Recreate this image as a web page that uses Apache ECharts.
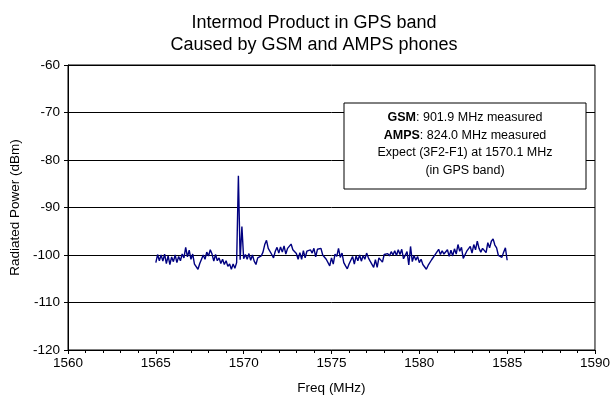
<!DOCTYPE html>
<html lang="en">
<head>
    <meta charset="UTF-8">
    <title>Intermod Product in GPS band</title>
    <script src="https://cdn.jsdelivr.net/npm/echarts@6/dist/echarts.min.js"></script>
    <style>
        html, body { margin: 0; padding: 0; background: #fff; }
        #main { width: 613px; height: 401px; }
    </style>
</head>
<body>
<div id="main"></div>
<script type="text/javascript">
    // sweep: 1565.0 .. 1585.0 MHz, one reading every 0.1 MHz
    const sweepStartMHz = 1565.0
    const sweepStepMHz = 0.1

    // radiated power (dBm)
    const powerDbm = [
        // 1565.0 - 1570.0
        -101.6, -99.9, -101.2, -100.0, -101.3, -99.8, -101.8, -100.2, -102.0, -100.4,
        -101.4, -100.0, -101.6, -100.3, -101.2, -99.8, -100.6, -98.4, -100.4, -99.0,
        -100.9, -99.8, -101.9, -102.3, -103.0, -101.8, -102.2, -100.0, -100.9, -99.4,
        -100.2, -98.9, -99.8, -101.3, -99.9, -101.2, -100.6, -101.8, -100.9, -102.0,
        -101.2, -102.4, -101.9, -103.0, -101.9, -102.8, -101.6, -83.3, -101.0, -94.0,
        -100.8,
        // 1570.1 - 1575.2
        -99.9, -100.9, -99.7, -101.1, -100.0, -101.3, -102.0, -100.6, -101.0, -100.2,
        -99.4, -97.8, -96.9, -98.6, -98.2, -99.9, -100.6, -99.2, -98.4, -99.6,
        -98.3, -99.4, -98.1, -99.8, -98.6, -98.3, -97.7, -98.9, -98.5, -99.7,
        -100.9, -99.5, -100.9, -99.1, -100.6, -99.2, -99.4, -98.9, -99.6, -98.6,
        -100.4, -98.8, -99.0, -98.6, -100.0, -99.6, -100.9, -101.2, -102.3, -100.6,
        -101.9, -99.8,
        // 1575.3 - 1580.4
        -100.3, -98.6, -100.5, -99.6, -101.6, -102.3, -102.9, -101.9, -101.6, -100.3,
        -101.9, -100.2, -101.2, -100.0, -101.3, -100.1, -100.9, -99.6, -100.6, -101.3,
        -101.4, -102.6, -101.0, -102.6, -100.6, -100.2, -101.5, -99.9, -99.8, -99.7,
        -100.2, -99.3, -100.0, -99.1, -100.1, -98.9, -99.9, -98.8, -100.8, -101.2,
        -99.3, -102.1, -98.2, -101.4, -100.1, -101.1, -100.3, -101.6, -100.9, -102.0,
        -102.2, -103.0,
        // 1580.5 - 1585.0
        -102.2, -102.1, -101.0, -100.9, -99.9, -100.0, -98.8, -99.9, -99.1, -99.8,
        -99.4, -98.9, -100.3, -99.0, -100.2, -98.7, -99.8, -97.8, -99.2, -98.4,
        -100.7, -100.8, -99.2, -99.1, -98.2, -99.6, -97.8, -98.9, -97.1, -98.6,
        -99.4, -98.6, -98.2, -99.5, -97.4, -98.5, -97.1, -96.6, -97.9, -98.5,
        -100.1, -100.2, -100.5, -99.4, -98.5, -101.1
    ]

    const titleLines = ['Intermod Product in GPS band', 'Caused by GSM and AMPS phones']
    const noteLines = [
        '{b|GSM}: 901.9 MHz measured',
        '{b|AMPS}: 824.0 MHz measured',
        'Expect (3F2-F1) at 1570.1 MHz',
        '(in GPS band)'
    ]

    const font = '"Liberation Sans", Arial, sans-serif'

    let chart = echarts.init(document.getElementById('main'), null, {renderer: 'canvas'})

    let points = powerDbm.map(function (v, i) {
        return [+(sweepStartMHz + i * sweepStepMHz).toFixed(1), v]
    })

    let option = {
        backgroundColor: '#fff',
        animation: false,
        title: {
            text: titleLines.join('\n'),
            left: 309,
            textAlign: 'center',
            top: 7,
            textStyle: {
                fontFamily: font,
                fontSize: 18,
                fontWeight: 'normal',
                color: '#000',
                lineHeight: 22
            }
        },
        grid: {
            left: 68,
            right: 14,
            top: 65,
            bottom: 51,
            show: true,
            borderColor: '#000',
            borderWidth: 1,
            backgroundColor: '#fff'
        },
        xAxis: {
            type: 'value',
            min: 1560,
            max: 1590,
            interval: 5,
            name: 'Freq (MHz)',
            nameLocation: 'middle',
            nameGap: 31,
            nameTextStyle: {fontFamily: font, fontSize: 13.5, color: '#000'},
            axisLine: {show: true, lineStyle: {color: '#000', width: 1}},
            axisTick: {show: true, length: 4, lineStyle: {color: '#000'}},
            minorTick: {show: true, splitNumber: 5, length: 3, lineStyle: {color: '#000'}},
            axisLabel: {
                fontFamily: font, fontSize: 13.5, color: '#000', margin: 6,
                formatter: function (v) { return String(v) }
            },
            splitLine: {show: false}
        },
        yAxis: {
            type: 'value',
            min: -120,
            max: -60,
            interval: 10,
            name: 'Radiated Power (dBm)',
            nameLocation: 'middle',
            nameGap: 46,
            nameTextStyle: {fontFamily: font, fontSize: 13.5, color: '#000'},
            axisLine: {show: true, lineStyle: {color: '#000', width: 1}},
            axisTick: {show: true, length: 4, lineStyle: {color: '#000'}},
            axisLabel: {fontFamily: font, fontSize: 13.5, color: '#000', margin: 8},
            splitLine: {show: true, lineStyle: {color: '#000', width: 1}}
        },
        series: [{
            name: 'Radiated Power',
            type: 'line',
            data: points,
            symbol: 'none',
            lineStyle: {color: '#000080', width: 1.4},
            z: 3
        }],
        graphic: [{
            type: 'rect',
            shape: {x: 344, y: 103, width: 242, height: 86},
            style: {fill: '#fff', stroke: '#000', lineWidth: 1},
            z: 10
        }, {
            type: 'text',
            x: 465,
            y: 109,
            z: 11,
            style: {
                text: noteLines.join('\n'),
                align: 'center',
                verticalAlign: 'top',
                fontFamily: font,
                fontSize: 12.5,
                lineHeight: 17.5,
                fill: '#000',
                rich: {
                    b: {fontFamily: font, fontSize: 12.5, fontWeight: 'bold', lineHeight: 17.5, fill: '#000'}
                }
            }
        }]
    }

    chart.setOption(option)
</script>
</body>
</html>
